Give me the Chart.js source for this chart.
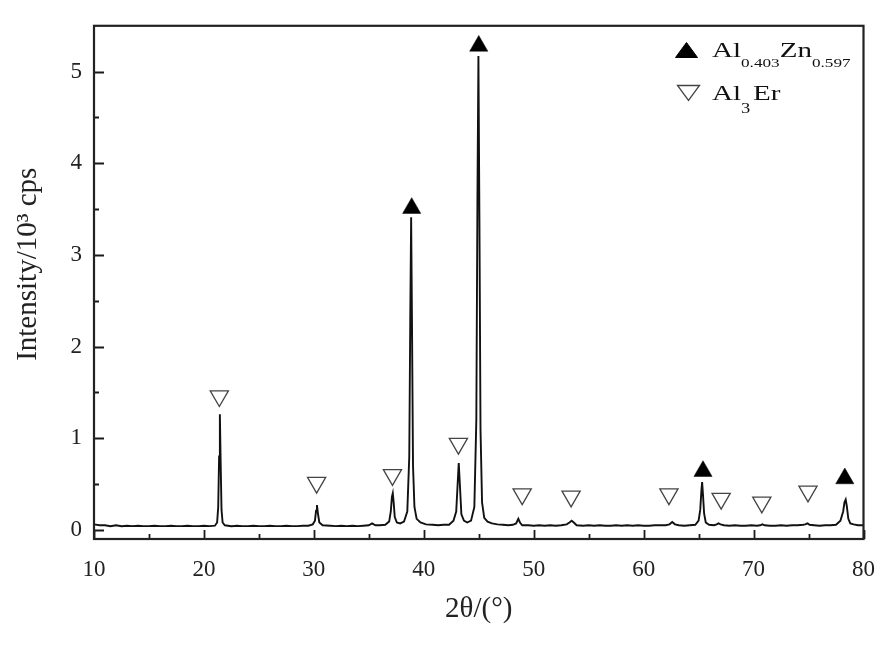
<!DOCTYPE html>
<html>
<head>
<meta charset="utf-8">
<script src="https://cdn.jsdelivr.net/npm/chart.js@4/dist/chart.umd.min.js"></script>
<style>
  html, body { margin: 0; padding: 0; background: #fff; }
  #wrap { position: relative; width: 892px; height: 648px; overflow: hidden; }
  #c { position: absolute; left: 0; top: 0; }
  .lg { position: absolute; left: 712px; font-family: "Liberation Serif", "Times New Roman", serif; font-size: 22px; line-height: 22px; color: #111; white-space: nowrap; transform: scaleX(1.32); transform-origin: 0 0; }
  .lg .sb { position: relative; font-size: 13px; top: 10px; }
  svg.sym { position: absolute; }
</style>
</head>
<body>
<div id="wrap">
  <canvas id="c" width="892" height="648"></canvas>
  <svg class="sym" style="left:674px;top:41px" width="26" height="18"><polygon points="1.5,16.5 12.5,1.5 23.5,16.5" fill="#000" stroke="#000" stroke-width="1"/></svg>
  <svg class="sym" style="left:676px;top:84px" width="26" height="18"><polygon points="1.5,1.5 23.5,1.5 12.5,16.5" fill="#fff" stroke="#444" stroke-width="1.3"/></svg>
  <div class="lg" style="top:38.6px">Al<span class="sb">0.403</span>Zn<span class="sb">0.597</span></div>
  <div class="lg" style="top:81.6px">Al<span class="sb" style="font-size:14px;top:13px;margin-right:2px">3</span>Er</div>
</div>
<script>
// ---- data ----
const twoTheta = [
  10.0,10.5,11.0,11.5,12.0,12.5,13.0,13.5,14.0,14.5,15.0,15.5,16.0,16.5,17.0,17.5,18.0,18.5,19.0,19.5,20.0,20.5,21.0,
  21.2,21.3,21.38,21.45,21.52,21.6,21.7,21.9,
  22.5,23.0,23.5,24.0,24.5,25.0,25.5,26.0,26.5,27.0,27.5,28.0,28.5,29.0,29.5,29.9,
  30.1,30.2,30.28,30.38,30.5,30.8,
  31.5,32.0,32.5,33.0,33.5,34.0,34.5,35.0,35.3,35.6,36.0,36.5,36.85,
  37.0,37.1,37.18,37.26,37.36,37.55,37.85,38.2,38.5,
  38.68,38.77,38.85,38.93,39.02,39.15,39.35,39.7,40.2,40.8,41.3,41.8,42.3,42.7,
  42.95,43.08,43.18,43.28,43.42,43.65,43.95,44.3,44.6,
  44.78,44.88,44.97,45.06,45.16,45.3,45.5,45.8,46.2,46.7,47.2,47.7,48.1,48.4,
  48.6,48.75,48.95,49.5,50.0,50.5,51.0,51.5,52.0,52.5,53.0,53.25,
  53.45,53.65,53.9,54.5,55.0,55.5,56.0,56.5,57.0,57.5,58.0,58.5,59.0,59.5,60.0,60.5,61.0,61.5,62.0,62.35,
  62.6,62.85,63.2,63.7,64.2,64.7,65.0,
  65.15,65.25,65.32,65.4,65.5,65.65,65.95,66.4,66.65,
  66.8,67.0,67.3,67.8,68.3,68.8,69.3,69.8,70.3,70.6,
  70.8,71.0,71.5,72.0,72.5,73.0,73.5,74.0,74.5,74.7,
  74.9,75.1,75.5,76.0,76.5,77.0,77.5,77.9,
  78.15,78.27,78.38,78.48,78.62,78.8,79.1,79.5,80.0
];
const intensity = [
  0.06,0.05,0.05,0.04,0.05,0.04,0.045,0.04,0.045,0.04,0.04,0.045,0.04,0.04,0.045,0.04,0.04,0.045,0.04,0.04,0.045,0.04,0.045,
  0.08,0.25,0.8,1.26,0.75,0.22,0.08,0.05,
  0.04,0.045,0.04,0.04,0.045,0.04,0.04,0.045,0.04,0.04,0.045,0.04,0.04,0.045,0.045,0.06,
  0.1,0.21,0.27,0.17,0.08,0.05,
  0.045,0.04,0.045,0.04,0.045,0.04,0.045,0.05,0.07,0.05,0.05,0.055,0.09,
  0.2,0.36,0.40,0.3,0.14,0.08,0.07,0.09,0.2,
  0.8,2.3,3.41,2.2,0.7,0.25,0.12,0.08,0.06,0.055,0.05,0.055,0.055,0.1,
  0.2,0.5,0.73,0.5,0.17,0.1,0.08,0.1,0.25,
  1.2,3.6,5.17,3.4,1.1,0.3,0.13,0.09,0.07,0.06,0.055,0.05,0.055,0.07,
  0.12,0.08,0.05,0.05,0.045,0.05,0.045,0.05,0.045,0.05,0.06,0.08,
  0.1,0.08,0.05,0.045,0.05,0.045,0.05,0.045,0.045,0.05,0.045,0.05,0.045,0.05,0.045,0.045,0.05,0.05,0.05,0.06,
  0.085,0.06,0.05,0.045,0.05,0.055,0.1,
  0.22,0.42,0.52,0.38,0.18,0.08,0.055,0.05,0.06,
  0.07,0.06,0.05,0.045,0.05,0.045,0.045,0.05,0.045,0.05,
  0.06,0.05,0.045,0.045,0.05,0.045,0.05,0.05,0.055,0.06,
  0.07,0.055,0.05,0.045,0.05,0.05,0.055,0.1,
  0.2,0.3,0.33,0.26,0.12,0.07,0.06,0.05,0.05
];
// phase markers (position, marker height)
const alZnX = [38.9, 45.0, 65.4, 78.3];
const alZnY = [3.51, 5.28, 0.64, 0.56];
const al3ErX = [21.4, 30.25, 37.15, 43.15, 48.95, 53.4, 62.3, 67.05, 70.75, 74.95];
const al3ErY = [1.46, 0.515, 0.60, 0.94, 0.39, 0.365, 0.39, 0.34, 0.30, 0.42];
// ticks
const xMajor = [10, 20, 30, 40, 50, 60, 70, 80];
const xMinor = [15, 25, 35, 45, 55, 65, 75];
const yMajor = [0, 1, 2, 3, 4, 5];
const yMinor = [0.5, 1.5, 2.5, 3.5, 4.5];
const xTitle = '2θ/(°)';
const yTitle = '     Intensity/10³ cps';

// ---- chart ----
const pattern = [];
for (let i = 0; i < Math.min(twoTheta.length, intensity.length); i++) pattern.push({x: twoTheta[i], y: intensity[i]});
const alZnPts = alZnX.map((x, i) => ({x, y: alZnY[i]}));
const al3ErPts = al3ErX.map((x, i) => ({x, y: al3ErY[i]}));

const serif = '"Liberation Serif", "Times New Roman", serif';

const frame = {
  id: 'frame',
  afterDatasetsDraw(chart) {
    const {ctx, chartArea: a, scales: {x, y}} = chart;
    ctx.save();
    ctx.strokeStyle = '#1a1a1a';
    ctx.lineWidth = 1.8;
    ctx.beginPath();
    xMajor.forEach(v => { const p = Math.round(x.getPixelForValue(v)) + 0.5; ctx.moveTo(p, a.bottom); ctx.lineTo(p, a.bottom - 9); });
    xMinor.forEach(v => { const p = Math.round(x.getPixelForValue(v)) + 0.5; ctx.moveTo(p, a.bottom); ctx.lineTo(p, a.bottom - 5); });
    yMajor.forEach(v => { const p = Math.round(y.getPixelForValue(v)) + 0.5; ctx.moveTo(a.left, p); ctx.lineTo(a.left + 10, p); });
    yMinor.forEach(v => { const p = Math.round(y.getPixelForValue(v)) + 0.5; ctx.moveTo(a.left, p); ctx.lineTo(a.left + 5, p); });
    ctx.stroke();
    ctx.lineWidth = 2.2;
    ctx.strokeStyle = '#222';
    ctx.strokeRect(a.left, a.top, a.right - a.left, a.bottom - a.top);
    ctx.restore();
  }
};

new Chart(document.getElementById('c'), {
  type: 'scatter',
  data: {
    datasets: [
      { label: 'Al3Er', data: al3ErPts, pointStyle: 'triangle', rotation: 180, radius: 10.5,
        backgroundColor: '#fff', borderColor: '#444', borderWidth: 1.3, showLine: false, order: 1 },
      { label: 'Al0.403Zn0.597', data: alZnPts, pointStyle: 'triangle', rotation: 0, radius: 10.5,
        backgroundColor: '#000', borderColor: '#000', borderWidth: 0.5, showLine: false, order: 1 },
      { label: 'XRD', data: pattern, showLine: true, borderColor: '#111', borderWidth: 1.9,
        pointRadius: 0, tension: 0, fill: false, order: 2 }
    ]
  },
  options: {
    responsive: false,
    devicePixelRatio: 1,
    animation: false,
    layout: { padding: { top: 17, right: 27, left: 0, bottom: 0 } },
    plugins: { legend: { display: false }, tooltip: { enabled: false } },
    scales: {
      x: {
        type: 'linear', min: 10, max: 80,
        afterBuildTicks: s => { s.ticks = xMajor.map(v => ({value: v})); },
        afterFit: s => { s.height = 109; },
        grid: { display: false, drawTicks: false },
        border: { display: false },
        ticks: { color: '#222', font: { family: serif, size: 23 }, padding: 17, maxRotation: 0 },
        title: { display: true, text: xTitle, color: '#222', font: { family: serif, size: 29 }, padding: { top: 0, bottom: 21 } }
      },
      y: {
        type: 'linear', min: -0.1, max: 5.5,
        afterBuildTicks: s => { s.ticks = yMajor.map(v => ({value: v})); },
        afterFit: s => { s.width = 94; },
        grid: { display: false, drawTicks: false },
        border: { display: false },
        ticks: { color: '#222', font: { family: serif, size: 23 }, padding: 12 },
        title: { display: true, text: yTitle, color: '#222', font: { family: serif, size: 29 }, padding: { top: 11, bottom: 0 } }
      }
    }
  },
  plugins: [frame]
});
</script>
</body>
</html>
